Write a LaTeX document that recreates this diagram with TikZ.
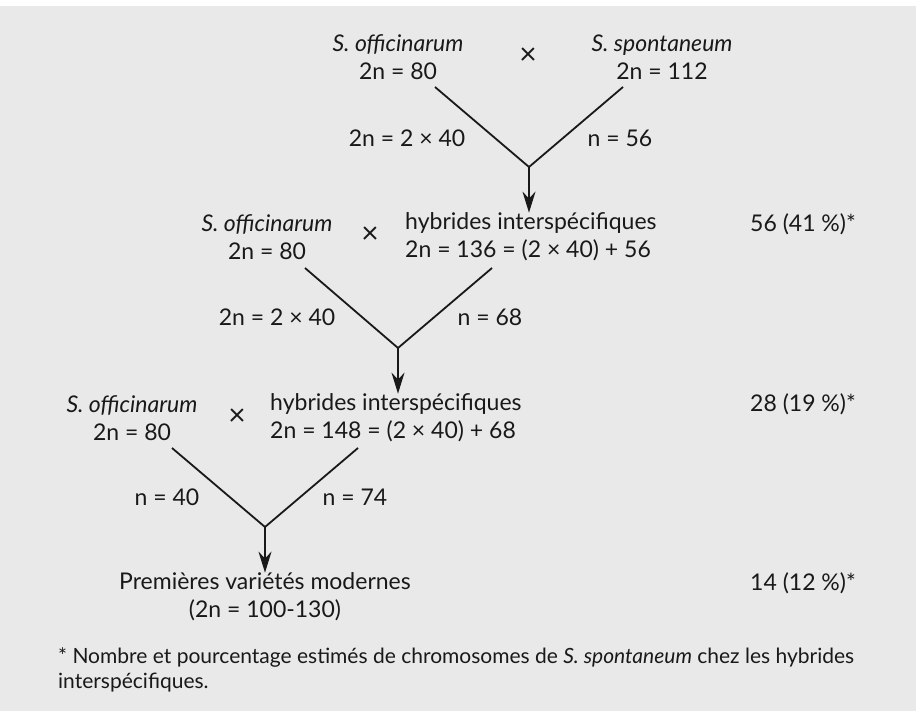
\documentclass[tikz,border=0pt]{standalone}
\usepackage{fontspec}
\setmainfont{Lato}
\usepackage{tikz}
\usetikzlibrary{arrows.meta,positioning}
\definecolor{paper}{RGB}{233,233,233}
\definecolor{ink}{RGB}{25,25,25}

\begin{document}
\begin{tikzpicture}[x=1pt,y=-1pt,
  every node/.style={text=ink,font=\fontsize{23}{28}\selectfont,inner sep=0pt},
  parent/.style={align=center},
  hybrid/.style={align=left,anchor=west},
  count/.style={anchor=west},
  cross/.style={font=\fontsize{30}{30}\selectfont},
  branch/.style={draw=ink,line width=1.8pt},
  descent/.style={draw=ink,line width=1.8pt,-{Stealth[length=21pt,width=13pt]}}]
% background
\fill[white] (0,0) rectangle (918,711);
\fill[paper] (0,6) rectangle (916,711);
\useasboundingbox (0,0) rectangle (918,711);

% first cross
\node[parent] (off1) at (398,57) {\textit{S. officinarum}\\2n = 80};
\node[cross] (x1) at (528,56) {×};
\node[parent] (spon) at (662,57) {\textit{S. spontaneum}\\2n = 112};
\coordinate (a1) at (435,87);
\coordinate (b1) at (623,87);
\coordinate (v1) at (529,167);
\draw[branch] (a1) -- (v1) -- (b1);
\node (g1) at (407,138) {2n = 2 × 40};
\node (h1) at (620,138) {n = 56};

% second cross
\node[parent] (off2) at (267,237) {\textit{S. officinarum}\\2n = 80};
\node[cross] (x2) at (370,235) {×};
\node[hybrid] (hyb2) at (405,237) {hybrides interspécifiques\\2n = 136 = (2 × 40) + 56};
\node[count] (c2) at (750,224) {56 (41 \%)*};
\draw[descent] (v1) -- (hyb2.north -| v1);
\coordinate (a2) at (305,268);
\coordinate (b2) at (492,268);
\coordinate (v2) at (398,348);
\draw[branch] (a2) -- (v2) -- (b2);
\node (g2) at (277,317) {2n = 2 × 40};
\node (h2) at (490,317) {n = 68};

% third cross
\node[parent] (off3) at (132,418) {\textit{S. officinarum}\\2n = 80};
\node[cross] (x3) at (237,417) {×};
\node[hybrid] (hyb3) at (270,418) {hybrides interspécifiques\\2n = 148 = (2 × 40) + 68};
\node[count] (c3) at (750,404) {28 (19 \%)*};
\draw[descent] (v2) -- (hyb3.north -| v2);
\coordinate (a3) at (172,448);
\coordinate (b3) at (358,448);
\coordinate (v3) at (265,527);
\draw[branch] (a3) -- (v3) -- (b3);
\node (g3) at (167,497) {n = 40};
\node (h3) at (355,497) {n = 74};

% result
\node[parent] (mod) at (265,597) {Premières variétés modernes\\(2n = 100-130)};
\node[count] (c4) at (750,583) {14 (12 \%)*};
\draw[descent] (v3) -- (mod.north);

% footnote
\node[align=left,anchor=west,font=\fontsize{21}{25}\selectfont] (note) at (58,670)
  {* Nombre et pourcentage estimés de chromosomes de \textit{S. spontaneum} chez les hybrides\\interspécifiques.};
\end{tikzpicture}
\end{document}
